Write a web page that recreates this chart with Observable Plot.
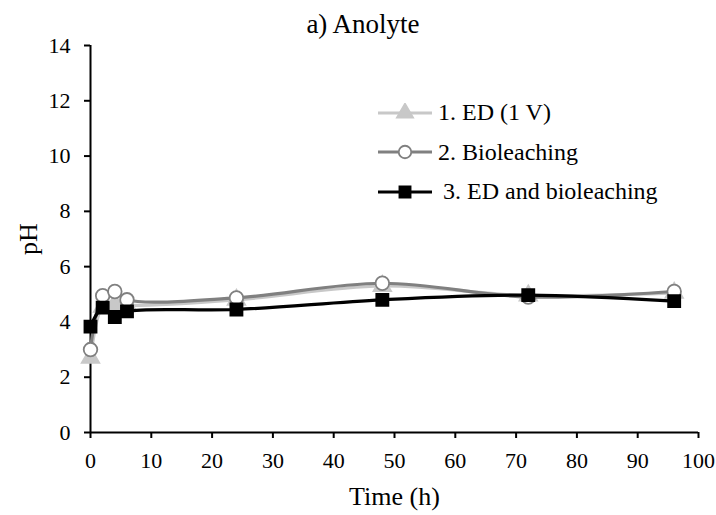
<!DOCTYPE html>
<html>
<head>
<meta charset="utf-8">
<script src="https://cdn.jsdelivr.net/npm/d3@7"></script>
<script src="https://cdn.jsdelivr.net/npm/@observablehq/plot@0.6"></script>
<style>
  html, body { margin: 0; padding: 0; background: #fff; }
  #wrap { position: relative; width: 716px; height: 515px; font-family: "Liberation Serif", "Times New Roman", serif; color: #000; }
  #title { position: absolute; left: 0; top: 9px; width: 726px; text-align: center; font-size: 27px; line-height: 30px; z-index: 2; }
  #chart { position: absolute; left: 0; top: 0; z-index: 1; }
  #chart svg { background: transparent !important; }
  #chart svg text { font-family: "Liberation Serif", "Times New Roman", serif !important; fill: #000; }
  #legend { position: absolute; left: 376px; top: 93px; font-size: 24px; z-index: 2; }
  .item { display: flex; align-items: center; height: 39.5px; }
  .item svg { display: block; margin-right: 4px; }
</style>
</head>
<body>
<div id="wrap">
  <div id="chart"></div>
  <div id="title">a) Anolyte</div>
  <div id="legend"></div>
</div>
<script>
const times = [0, 2, 4, 6, 24, 48, 72, 96];
const seriesNames = ["1. ED (1 V)", "2. Bioleaching", "3. ED and bioleaching"];
const edValues = [2.7, 4.55, 4.65, 4.6, 4.8, 5.3, 4.95, 5.05];
const bioValues = [3.0, 4.95, 5.1, 4.8, 4.87, 5.4, 4.9, 5.1];
const edBioValues = [3.83, 4.52, 4.18, 4.38, 4.45, 4.8, 4.97, 4.75];
const yTicks = [0, 2, 4, 6, 8, 10, 12, 14];
const xTicks = [0, 10, 20, 30, 40, 50, 60, 70, 80, 90, 100];

const serif = "Liberation Serif, Times New Roman, serif";
const styles = [
  {color: "#c8c8c8", fill: "#c8c8c8", symbol: "triangle", r: 6.5},
  {color: "#808080", fill: "#ffffff", symbol: "circle", r: 6.8},
  {color: "#000000", fill: "#000000", symbol: "square", r: 6.8}
];
const allValues = [edValues, bioValues, edBioValues];
const data = allValues.map((vals, i) => times.map((t, j) => ({t, v: vals[j], s: seriesNames[i]})));

const marks = [];
data.forEach((d, i) => {
  const st = styles[i];
  marks.push(Plot.line(d, {x: "t", y: "v", stroke: st.color, strokeWidth: 3.2, curve: "catmull-rom"}));
  marks.push(Plot.dot(d, {x: "t", y: "v", symbol: () => st.symbol, r: st.r, fill: st.fill, stroke: st.color, strokeWidth: 1.8}));
});

const plot = Plot.plot({
  width: 716,
  height: 515,
  marginLeft: 90,
  marginRight: 18,
  marginTop: 45,
  marginBottom: 83,
  style: {fontFamily: serif, fontSize: "22px", color: "#000", background: "transparent"},
  x: {domain: [0, 100]},
  y: {domain: [0, 14]},
  symbol: {type: "identity"},
  marks: [
    Plot.axisY({ticks: yTicks, tickSize: 6, tickPadding: 14, fontSize: 22, fontFamily: serif, label: null, stroke: "#000", strokeWidth: 2}),
    Plot.axisX({ticks: xTicks, tickSize: 6, tickPadding: 14, fontSize: 22, fontFamily: serif, label: null, stroke: "#000", strokeWidth: 2}),
    Plot.ruleX([0], {stroke: "#000", strokeWidth: 2}),
    Plot.ruleY([0], {stroke: "#000", strokeWidth: 2}),
    Plot.axisY({ticks: [], label: "pH", labelAnchor: "center", labelArrow: "none", labelOffset: 72, fontSize: 26, fontFamily: serif}),
    Plot.axisX({ticks: [], label: "Time (h)", labelAnchor: "center", labelArrow: "none", labelOffset: 72, fontSize: 26, fontFamily: serif}),
    ...marks
  ]
});
document.getElementById("chart").appendChild(plot);

// Legend
const legend = d3.select("#legend");
seriesNames.forEach((name, i) => {
  const st = styles[i];
  const item = legend.append("div").attr("class", "item");
  const svg = item.append("svg").attr("width", 58).attr("height", 20);
  svg.append("line").attr("x1", 2).attr("x2", 56).attr("y1", 10).attr("y2", 10)
    .attr("stroke", st.color).attr("stroke-width", 3.2);
  const sym = d3.symbol().type(st.symbol === "triangle" ? d3.symbolTriangle : st.symbol === "circle" ? d3.symbolCircle : d3.symbolSquare)
    .size(Math.PI * st.r * st.r * 0.85);
  svg.append("path").attr("d", sym()).attr("transform", "translate(29,10)")
    .attr("fill", st.fill).attr("stroke", st.color).attr("stroke-width", 1.8);
  item.append("span").text(name).style("margin-left", i === 2 ? "5px" : "0px");
});
</script>
</body>
</html>
